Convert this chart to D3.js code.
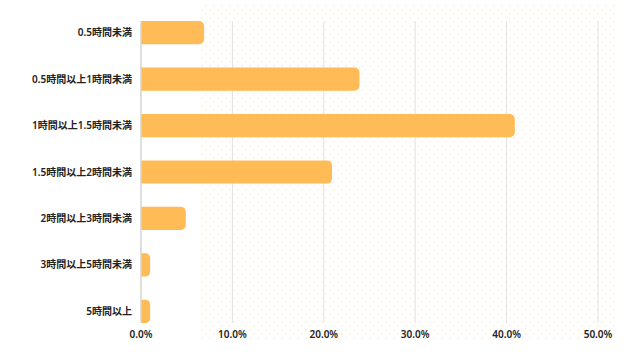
<!DOCTYPE html>
<html>
<head>
<meta charset="utf-8">
<script src="https://cdn.jsdelivr.net/npm/d3@7"></script>
<style>
  body { margin: 0; background: #fff; }
  svg text { font-family: "Noto Sans", "Noto Sans CJK JP", sans-serif; }
</style>
</head>
<body>
<svg id="chart" width="640" height="360"></svg>
<script>
var categories = ['0.5時間未満', '0.5時間以上1時間未満', '1時間以上1.5時間未満', '1.5時間以上2時間未満',
                  '2時間以上3時間未満', '3時間以上5時間未満', '5時間以上'];
var values = [6.9, 23.9, 40.9, 20.9, 4.9, 1.0, 1.0];
var xTicks = [0, 10, 20, 30, 40, 50];

var margin = {top: 21, right: 42, bottom: 37, left: 141},
    width = 640 - margin.left - margin.right,
    height = 360 - margin.top - margin.bottom;

var svg = d3.select('#chart');

// faint dotted backdrop
var defs = svg.append('defs');
var pat = defs.append('pattern')
    .attr('id', 'dots')
    .attr('patternUnits', 'userSpaceOnUse')
    .attr('width', 8)
    .attr('height', 8);
pat.append('circle').attr('cx', 2).attr('cy', 2).attr('r', 1).attr('fill', '#fdf0df');
pat.append('circle').attr('cx', 6).attr('cy', 6).attr('r', 1).attr('fill', '#fdf0df');

svg.append('rect')
    .attr('x', 200)
    .attr('y', 4)
    .attr('width', 415)
    .attr('height', 336)
    .attr('fill', 'url(#dots)');

var g = svg.append('g').attr('transform', 'translate(' + margin.left + ',' + margin.top + ')');

var x = d3.scaleLinear().domain([0, 50]).range([0, 457]);
var y = d3.scaleBand().domain(categories).range([0, 302]).paddingInner(0.5).paddingOuter(0);

// grid
g.selectAll('.grid')
    .data(xTicks.slice(1))
    .join('line')
    .attr('class', 'grid')
    .attr('x1', d => x(d))
    .attr('x2', d => x(d))
    .attr('y1', 0)
    .attr('y2', 302)
    .attr('stroke', '#e2e2e2')
    .attr('stroke-width', 1);

// bars, rounded at the right end only
var r = 5;
g.selectAll('.bar')
    .data(values)
    .join('path')
    .attr('class', 'bar')
    .attr('d', function(d, i) {
        var y0 = y(categories[i]), h = y.bandwidth(), w = x(d);
        var rr = Math.min(r, w / 2, h / 2);
        return 'M0,' + y0 + 'H' + (w - rr) +
            'A' + rr + ',' + rr + ' 0 0 1 ' + w + ',' + (y0 + rr) +
            'V' + (y0 + h - rr) +
            'A' + rr + ',' + rr + ' 0 0 1 ' + (w - rr) + ',' + (y0 + h) +
            'H0Z';
    })
    .attr('fill', '#ffbb56');

// y axis line
g.append('line')
    .attr('x1', 0).attr('x2', 0)
    .attr('y1', 0).attr('y2', 302)
    .attr('stroke', '#d4d4d4')
    .attr('stroke-width', 1.5);

// category labels
g.selectAll('.cat')
    .data(categories)
    .join('text')
    .attr('class', 'cat')
    .attr('x', -9)
    .attr('y', d => y(d) + y.bandwidth() / 2)
    .attr('dy', '0.35em')
    .attr('text-anchor', 'end')
    .attr('font-size', 10)
    .attr('font-weight', 600)
    .attr('fill', '#222')
    .text(d => d);

// x tick labels
g.selectAll('.xt')
    .data(xTicks)
    .join('text')
    .attr('class', 'xt')
    .attr('x', d => x(d))
    .attr('y', 313)
    .attr('dy', '0.35em')
    .attr('text-anchor', 'middle')
    .attr('font-size', 10)
    .attr('font-weight', 600)
    .attr('fill', '#222')
    .text(d => d.toFixed(1) + '%');
</script>
</body>
</html>
